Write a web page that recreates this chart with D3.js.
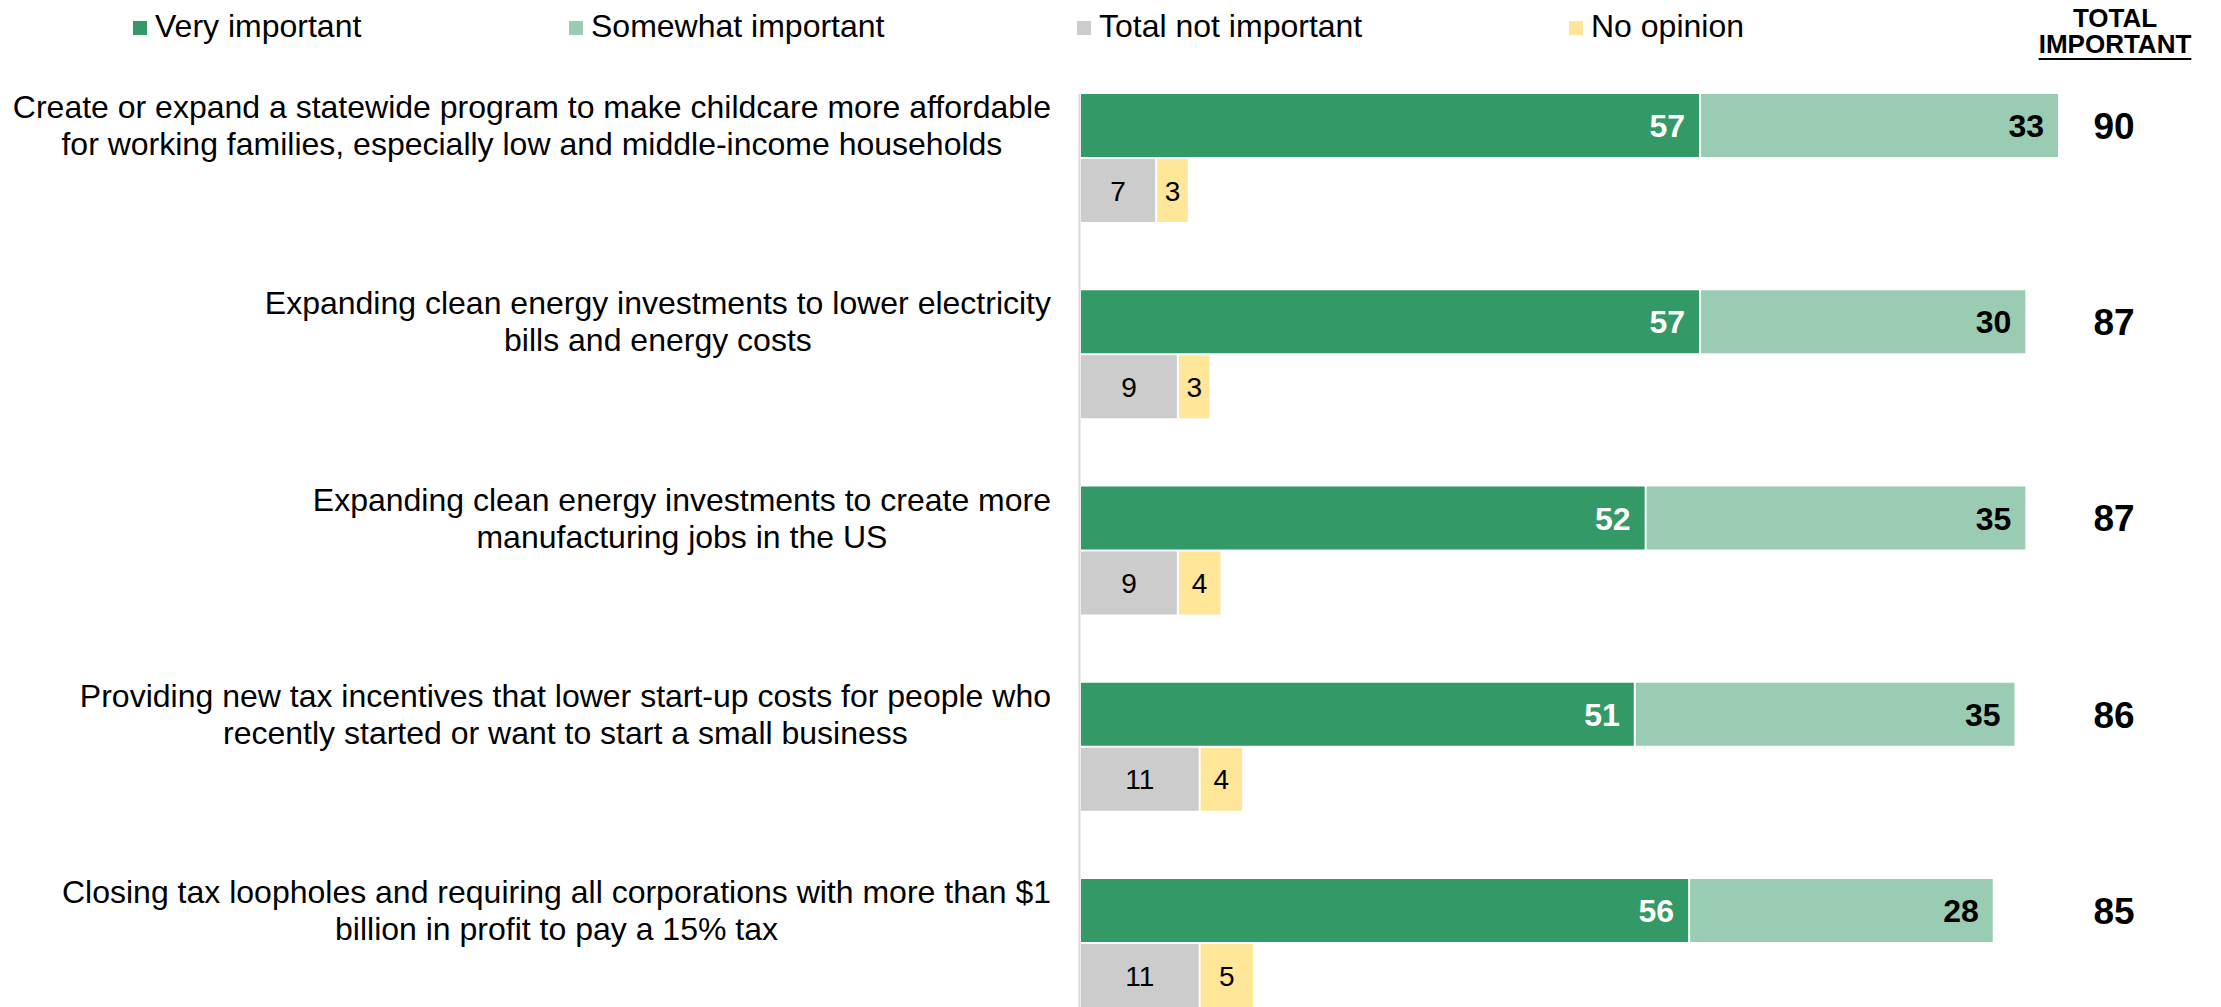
<!DOCTYPE html>
<html>
<head>
<meta charset="utf-8">
<script src="https://cdn.jsdelivr.net/npm/d3@7"></script>
<style>
  body { margin: 0; background: #fff; }
  svg { display: block; font-family: "Liberation Sans", Arial, sans-serif; }
</style>
</head>
<body>
<div id="chart"></div>
<script>
var categories = [
  ["Create or expand a statewide program to make childcare more affordable", "for working families, especially low and middle-income households"],
  ["Expanding clean energy investments to lower electricity", "bills and energy costs"],
  ["Expanding clean energy investments to create more", "manufacturing jobs in the US"],
  ["Providing new tax incentives that lower start-up costs for people who", "recently started or want to start a small business"],
  ["Closing tax loopholes and requiring all corporations with more than $1", "billion in profit to pay a 15% tax"]
];
var veryImportant = [57, 57, 52, 51, 56];
var somewhatImportant = [33, 30, 35, 35, 28];
var notImportant = [7, 9, 9, 11, 11];
var noOpinion = [3, 3, 4, 4, 5];
var totalImportant = [90, 87, 87, 86, 85];
var legendLabels = ["Very important", "Somewhat important", "Total not important", "No opinion"];
var colors = ["#339966", "#99ccb3", "#cccccc", "#ffe699"];

var width = 2221, height = 1007;

var svg = d3.select("#chart").append("svg")
  .attr("width", width)
  .attr("height", height);

var x = d3.scaleLinear().domain([0, 90]).range([1081, 2060]);

var y = d3.scaleBand()
  .domain(d3.range(categories.length))
  .range([94, 94 + 196.25 * categories.length]);

var sub = d3.scaleBand().domain(["imp", "not"]).range([0, 130]);
var barH = sub.bandwidth() - 2;

// legend
var legendX = d3.scaleOrdinal().domain(legendLabels).range([133, 569, 1077, 1569]);
var leg = svg.selectAll("g.legend")
  .data(legendLabels)
  .enter().append("g")
    .attr("class", "legend")
    .attr("transform", function (d) { return "translate(" + legendX(d) + ",0)"; });
leg.append("rect")
  .attr("x", 0).attr("y", 21)
  .attr("width", 14).attr("height", 14)
  .attr("fill", function (d, i) { return colors[i]; });
leg.append("text")
  .attr("x", 22).attr("y", 37)
  .style("font-size", "32px")
  .attr("fill", "#000")
  .text(function (d) { return d; });

// total important header
var hdr = svg.append("text")
  .attr("text-anchor", "middle")
  .style("font-size", "26px")
  .style("font-weight", "bold");
hdr.append("tspan").attr("x", 2115).attr("y", 27).text("TOTAL");
var imp = hdr.append("tspan").attr("x", 2115).attr("y", 53).text("IMPORTANT");
var impW = imp.node().getComputedTextLength();
svg.append("line")
  .attr("x1", 2115 - impW / 2).attr("x2", 2115 + impW / 2)
  .attr("y1", 59).attr("y2", 59)
  .style("stroke", "#000").style("stroke-width", 2);

// axis line
svg.append("line")
  .attr("x1", x(0) - 1.5).attr("x2", x(0) - 1.5)
  .attr("y1", y(0)).attr("y2", height)
  .style("stroke", "#d9d9d9").style("stroke-width", 2);

var rows = svg.selectAll("g.row")
  .data(categories)
  .enter().append("g")
    .attr("class", "row")
    .attr("transform", function (d, i) { return "translate(0," + y(i) + ")"; });

// category labels: centred lines, right edge of the widest line at 1051
rows.append("text")
  .attr("text-anchor", "middle")
  .style("font-size", "32px")
  .attr("fill", "#000")
  .each(function (d) {
    var t = d3.select(this);
    var mid = sub("imp") + barH / 2;
    var spans = d.map(function (line, k) {
      return t.append("tspan")
        .attr("y", mid + 11 + (k - (d.length - 1) / 2) * 37)
        .text(line);
    });
    var maxW = d3.max(spans, function (s) { return s.node().getComputedTextLength(); });
    spans.forEach(function (s) { s.attr("x", 1051 - maxW / 2); });
  });

function segments(i) {
  return [
    {row: "imp", start: 0, value: veryImportant[i], color: colors[0], bold: true, fill: "#fff", anchor: "end"},
    {row: "imp", start: veryImportant[i], value: somewhatImportant[i], color: colors[1], bold: true, fill: "#000", anchor: "end"},
    {row: "not", start: 0, value: notImportant[i], color: colors[2], bold: false, fill: "#000", anchor: "middle"},
    {row: "not", start: notImportant[i], value: noOpinion[i], color: colors[3], bold: false, fill: "#000", anchor: "middle"}
  ];
}

rows.each(function (d, i) {
  var g = d3.select(this);
  var segs = segments(i);

  g.selectAll("rect.seg")
    .data(segs)
    .enter().append("rect")
      .attr("class", "seg")
      .attr("x", function (s) { return x(s.start); })
      .attr("y", function (s) { return sub(s.row); })
      .attr("width", function (s) { return x(s.start + s.value) - x(s.start) - 2; })
      .attr("height", barH)
      .attr("fill", function (s) { return s.color; });

  g.selectAll("text.val")
    .data(segs)
    .enter().append("text")
      .attr("class", "val")
      .attr("text-anchor", function (s) { return s.anchor; })
      .attr("x", function (s) {
        if (s.anchor === "end") return x(s.start + s.value) - 16;
        return (x(s.start) + x(s.start + s.value) - 2) / 2;
      })
      .attr("y", function (s) { return sub(s.row) + barH / 2; })
      .attr("dy", "0.36em")
      .style("font-size", function (s) { return s.bold ? "32px" : "28px"; })
      .style("font-weight", function (s) { return s.bold ? "bold" : "normal"; })
      .attr("fill", function (s) { return s.fill; })
      .text(function (s) { return s.value; });

  g.append("text")
    .attr("text-anchor", "middle")
    .attr("x", 2114)
    .attr("y", sub("imp") + barH / 2)
    .attr("dy", "0.36em")
    .style("font-size", "37px")
    .style("font-weight", "bold")
    .attr("fill", "#000")
    .text(totalImportant[i]);
});
</script>
</body>
</html>
